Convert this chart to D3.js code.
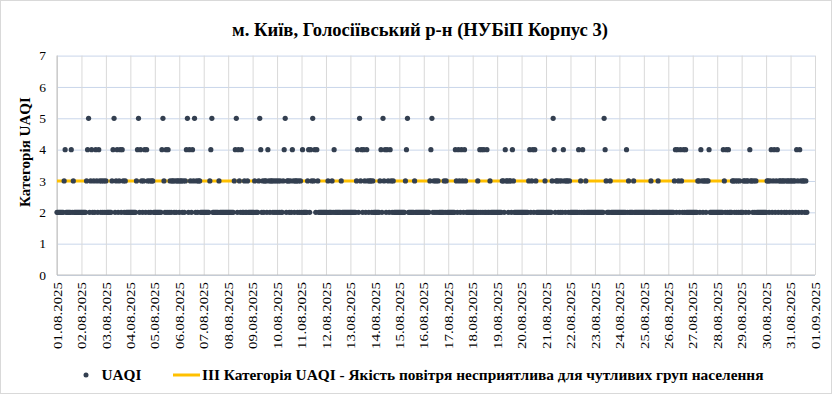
<!DOCTYPE html>
<html><head><meta charset="utf-8">
<script src="https://cdn.jsdelivr.net/npm/d3@7"></script>
<style>
body{margin:0;background:#fff}
svg{display:block}
text{font-family:"Liberation Serif","Times New Roman",serif;fill:#000}
</style>
</head><body>
<svg id="c" width="832" height="394"></svg>
<script>
const chartTitle = "м. Київ, Голосіївський р-н (НУБіП Корпус 3)";
const yTitle = "Категорія UAQI";
const seriesName = "UAQI";
const thresholdName = "III Категорія UAQI - Якість повітря несприятлива для чутливих груп населення";
const dayLabels = ["01.08.2025","02.08.2025","03.08.2025","04.08.2025","05.08.2025","06.08.2025","07.08.2025","08.08.2025","09.08.2025","10.08.2025","11.08.2025","12.08.2025","13.08.2025","14.08.2025","15.08.2025","16.08.2025","17.08.2025","18.08.2025","19.08.2025","20.08.2025","21.08.2025","22.08.2025","23.08.2025","24.08.2025","25.08.2025","26.08.2025","27.08.2025","28.08.2025","29.08.2025","30.08.2025","31.08.2025","01.09.2025"];
const yTicks = [0,1,2,3,4,5,6,7];
const thresholdValue = 3;
// hourly UAQI category, one string per day (hour 0..23)
const uaqiByDay = [
  "222222234222224232222222",
  "222223452342324324323232",
  "322222345234234243232222",
  "222222345243234243232332",
  "222222245324242323323233",
  "233232345243243523233222",
  "222222345222222322222222",
  "222222345243242232232222",
  "223222354232332432332323",
  "232322345233232432332323",
  "242222342435342432222222",
  "223222324222222322222222",
  "222222342534243243233232",
  "222223425342432432322222",
  "222222345222222322222222",
  "222222345232323222223232",
  "222222243243243243222222",
  "222223242424224223222222",
  "222223324332332432222222",
  "222222234234243222222223",
  "222222354233232324323323",
  "222222224232422322222222",
  "222222222543222322222222",
  "222222242322223222222222",
  "222222232222223222222222",
  "222222342432432424222222",
  "222223324323323342222222",
  "222222432424222332323232",
  "223323324332323222222222",
  "233234234234233233232332",
  "33233243243233232"
];

const W = 832, H = 394;
const L = 57, R = 815, T = 55.6, B = 275;
const svg = d3.select("#c");
const parseDay = d3.utcParse("%d.%m.%Y");
const tickDates = dayLabels.map(parseDay);

const points = [];
uaqiByDay.forEach((s, d) => {
  for (let h = 0; h < s.length; h++) {
    points.push({t: d3.utcHour.offset(tickDates[d], h), v: +s[h]});
  }
});

const x = d3.scaleUtc().domain([tickDates[0], tickDates[tickDates.length-1]]).range([L, R]);
const y = d3.scaleLinear().domain([0, 7]).range([B, T]);

svg.append("rect").attr("x",0.5).attr("y",0.5).attr("width",W-1).attr("height",H-1)
  .attr("fill","#fff").attr("stroke","#d9d9d9");

// horizontal grid
const gy = svg.append("g").attr("transform",`translate(${L},0)`)
  .call(d3.axisLeft(y).tickValues(yTicks).tickSize(-(R-L)).tickFormat(""));
gy.select(".domain").remove();
gy.selectAll("line").attr("stroke","#c9d6ea").attr("stroke-width",1);

// vertical grid
const gx = svg.append("g").attr("transform",`translate(0,${B})`)
  .call(d3.axisBottom(x).tickValues(tickDates).tickSize(-(B-T)).tickFormat(""));
gx.select(".domain").remove();
gx.selectAll("line").attr("stroke","#d9d9d9").attr("stroke-width",1);

// axis lines
svg.append("line").attr("x1",L).attr("x2",L).attr("y1",T).attr("y2",B).attr("stroke","#bfbfbf");
svg.append("line").attr("x1",L).attr("x2",R).attr("y1",B).attr("y2",B).attr("stroke","#bfbfbf");

// y tick labels
svg.append("g").selectAll("text").data(yTicks).join("text")
  .attr("x", 46).attr("y", d => y(d)).attr("dy","0.35em")
  .attr("text-anchor","end").attr("font-size","13.5px").text(d => d);

// x tick labels
svg.append("g").selectAll("text").data(tickDates).join("text")
  .attr("transform", (d) => `translate(${x(d)},282) rotate(-90)`)
  .attr("dy","0.36em").attr("text-anchor","end")
  .attr("font-size","13px")
  .attr("textLength", 67).attr("lengthAdjust","spacingAndGlyphs")
  .text((d,i) => dayLabels[i]);

function fit(sel, target) {
  const w = sel.node().getComputedTextLength();
  const fs = parseFloat(sel.attr("font-size"));
  sel.attr("font-size", (fs * target / w) + "px");
}

// threshold line
const line = d3.line().x(d => x(d.t)).y(() => y(thresholdValue));
svg.append("path").datum([points[0], points[points.length-1]])
  .attr("d", line).attr("stroke","#ffc000").attr("stroke-width",3).attr("fill","none");

// points
svg.append("g").selectAll("circle").data(points).join("circle")
  .attr("cx", d => x(d.t)).attr("cy", d => y(d.v)).attr("r", 2.6)
  .attr("fill","#333f50");

// title
const tt = svg.append("text").attr("x", 420).attr("y", 36).attr("text-anchor","middle")
  .attr("font-weight","bold").attr("font-size","17px").text(chartTitle);
fit(tt, 376);

// y title
const yt = svg.append("text").attr("transform","translate(25,152) rotate(-90)")
  .attr("dy","0.35em").attr("text-anchor","middle")
  .attr("font-weight","bold").attr("font-size","14px").text(yTitle);
fit(yt, 110);

// legend
const ly = 375;
svg.append("circle").attr("cx",86).attr("cy",ly).attr("r",2.5).attr("fill","#333f50");
const l1 = svg.append("text").attr("x",101.5).attr("y",ly).attr("dy","0.35em")
  .attr("font-weight","bold").attr("font-size","15px").text(seriesName);
fit(l1, 40);
svg.append("line").attr("x1",173).attr("x2",200).attr("y1",ly).attr("y2",ly)
  .attr("stroke","#ffc000").attr("stroke-width",3);
const l2 = svg.append("text").attr("x",202).attr("y",ly).attr("dy","0.35em")
  .attr("font-weight","bold").attr("font-size","15px").text(thresholdName);
fit(l2, 562);
</script>
</body></html>
